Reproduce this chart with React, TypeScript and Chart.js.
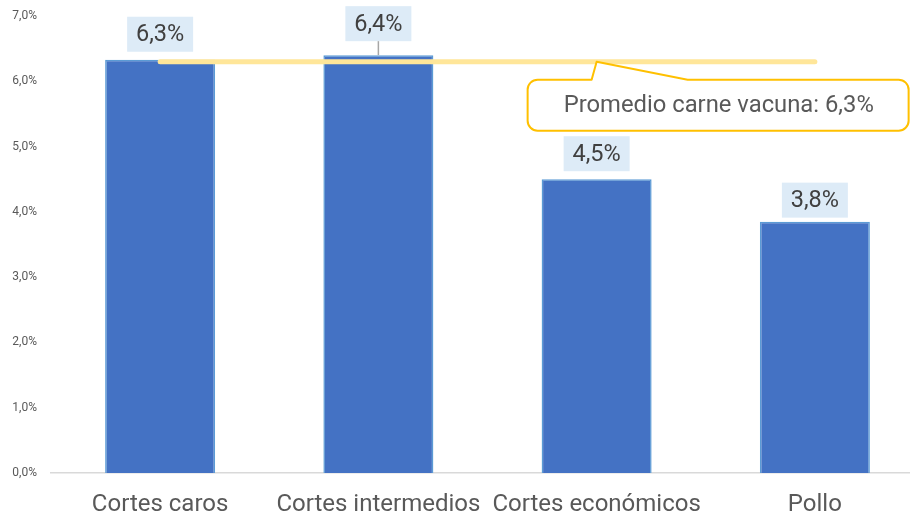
import React, { useEffect, useRef } from "react";
import { Chart, registerables } from "chart.js";

Chart.register(...registerables);

const categories = ["Cortes caros", "Cortes intermedios", "Cortes económicos", "Pollo"];
const values = [6.33, 6.4, 4.5, 3.85];
const valueLabels = ["6,3%", "6,4%", "4,5%", "3,8%"];
const averageValue = 6.3;
const averageLabel = "Promedio carne vacuna: 6,3%";
const yTicks = [0, 1, 2, 3, 4, 5, 6, 7];

const FONT = "Roboto, 'Noto Sans', sans-serif";

const labelPlugin = {
  id: "valueLabels",
  afterDatasetsDraw(chart: any) {
    const { ctx, scales } = chart;
    const meta = chart.getDatasetMeta(1);
    ctx.save();
    ctx.font = `23.5px ${FONT}`;
    ctx.textAlign = "center";
    ctx.textBaseline = "middle";
    meta.data.forEach((bar: any, i: number) => {
      const x = bar.x;
      const top = bar.y;
      const extra = i === 1 ? 14 : i === 3 ? 4 : 8;
      const h = 35;
      const w = 66;
      const bottom = top - extra;
      ctx.fillStyle = "#DDEBF7";
      ctx.fillRect(x - w / 2, bottom - h, w, h);
      if (i === 1) {
        ctx.strokeStyle = "#A6A6A6";
        ctx.lineWidth = 1.5;
        ctx.beginPath();
        ctx.moveTo(x, bottom);
        ctx.lineTo(x, top);
        ctx.stroke();
      }
      ctx.fillStyle = "#404040";
      ctx.fillText(valueLabels[i], x, bottom - h / 2 + 1);
    });

    // callout
    const tipX = scales.x.getPixelForValue(2);
    const tipY = scales.y.getPixelForValue(averageValue);
    const bx = tipX - 69;
    const by = tipY + 18;
    const bw = 381;
    const bh = 51;
    const r = 10;
    const p1 = tipX - 5;
    const p2 = tipX + 91;
    ctx.beginPath();
    ctx.moveTo(bx + r, by);
    ctx.lineTo(p1, by);
    ctx.lineTo(tipX, tipY);
    ctx.lineTo(p2, by);
    ctx.lineTo(bx + bw - r, by);
    ctx.arcTo(bx + bw, by, bx + bw, by + r, r);
    ctx.lineTo(bx + bw, by + bh - r);
    ctx.arcTo(bx + bw, by + bh, bx + bw - r, by + bh, r);
    ctx.lineTo(bx + r, by + bh);
    ctx.arcTo(bx, by + bh, bx, by + bh - r, r);
    ctx.lineTo(bx, by + r);
    ctx.arcTo(bx, by, bx + r, by, r);
    ctx.closePath();
    ctx.fillStyle = "#FFFFFF";
    ctx.fill();
    ctx.strokeStyle = "#FFC000";
    ctx.lineWidth = 2;
    ctx.lineJoin = "round";
    ctx.stroke();
    ctx.font = `23.8px ${FONT}`;
    ctx.textAlign = "left";
    ctx.fillStyle = "#595959";
    ctx.fillText(averageLabel, bx + 36, by + bh / 2 + 1);
    ctx.restore();
  },
};

export default function App() {
  const ref = useRef<HTMLCanvasElement>(null);
  useEffect(() => {
    if (!ref.current) return;
    const chart = new Chart(ref.current, {
      type: "bar",
      data: {
        labels: categories,
        datasets: [
          {
            type: "line",
            data: categories.map(() => averageValue),
            borderColor: "#FFE699",
            borderWidth: 5,
            borderCapStyle: "round",
            pointRadius: 0,
            order: 0,
          } as any,
          {
            type: "bar",
            data: values,
            backgroundColor: "#4472C4",
            borderColor: "#5B9BD5",
            borderWidth: 1.5,
            categoryPercentage: 1,
            barPercentage: 0.504,
            order: 1,
          },
        ],
      },
      options: {
        animation: false,
        responsive: true,
        maintainAspectRatio: false,
        layout: { padding: { top: 16, right: 0, left: 0, bottom: 0 } },
        plugins: { legend: { display: false }, tooltip: { enabled: false } },
        scales: {
          x: {
            grid: { display: false, drawTicks: false },
            border: { display: true, color: "#D9D9D9", width: 1.5 },
            ticks: { color: "#595959", font: { family: FONT, size: 24 }, padding: 18, maxRotation: 0, autoSkip: false },
            afterFit: (s: any) => { s.height = 45; },
          },
          y: {
            min: 0,
            max: 7,
            grid: { display: false, drawTicks: false },
            border: { display: false },
            afterBuildTicks: (s: any) => { s.ticks = yTicks.map((v) => ({ value: v })); },
            ticks: {
              color: "#595959",
              font: { family: FONT, size: 12 },
              padding: 14,
              callback: (v: any) => Number(v).toFixed(1).replace(".", ",") + "%",
            },
            afterFit: (s: any) => { s.width = 51; s.paddingTop = 0; s.paddingBottom = 0; },
          },
        },
      },
      plugins: [labelPlugin],
    });
    return () => chart.destroy();
  }, []);
  return (
    <div style={{ position: "fixed", left: 0, top: 0, width: 924, height: 518, background: "#fff" }}>
      <canvas ref={ref} />
    </div>
  );
}
